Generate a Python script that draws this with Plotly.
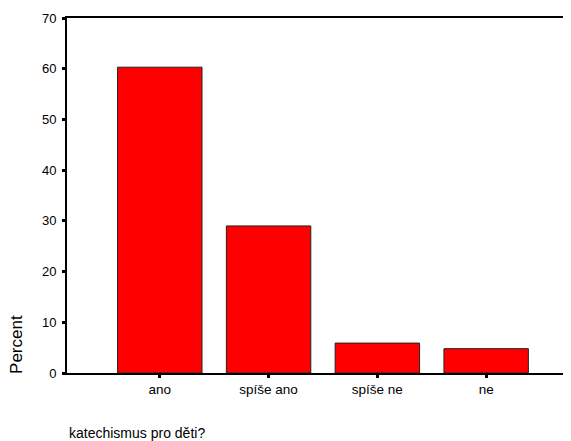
import plotly.graph_objects as go

categories = ["ano", "spíše ano", "spíše ne", "ne"]
percent = [60.3, 29.0, 5.9, 4.8]
y_ticks = [0, 10, 20, 30, 40, 50, 60, 70]
x_title = "katechismus pro děti?"
y_title = "Percent"

fig = go.Figure()
fig.add_trace(go.Bar(
    x=categories, y=percent,
    marker=dict(color="#ff0000", line=dict(color="#222222", width=1)),
))

fig.update_layout(
    width=563, height=433,
    margin=dict(l=59, r=0, t=10, b=68),
    paper_bgcolor="white", plot_bgcolor="white",
    bargap=0.224,
    showlegend=False,
    font=dict(family="Liberation Sans, Arial, sans-serif", color="black", size=13),
)
fig.update_xaxes(
    range=[-0.853, 3.78],
    showline=True, linecolor="black", linewidth=2, mirror=True,
    ticks="outside", ticklen=3, tickwidth=3, tickcolor="black",
    showgrid=False, zeroline=False,
    tickfont=dict(size=13.5),
)
fig.update_yaxes(
    range=[0, 70], tickvals=y_ticks,
    showline=True, linecolor="black", linewidth=2,
    ticks="outside", ticklen=3, tickwidth=3, tickcolor="black",
    showgrid=False, zeroline=False,
    tickfont=dict(size=13),
    ticklabelstandoff=3,
)
fig.add_annotation(
    text=y_title, xref="paper", yref="paper", x=-0.1005, y=0.08,
    xanchor="center", yanchor="middle", textangle=-90, showarrow=False,
    font=dict(size=17),
)
fig.add_annotation(
    text=x_title, xref="paper", yref="paper", x=0.0, y=-0.168,
    xanchor="left", yanchor="middle", showarrow=False,
    font=dict(size=14),
)
fig.write_html("out.html")
